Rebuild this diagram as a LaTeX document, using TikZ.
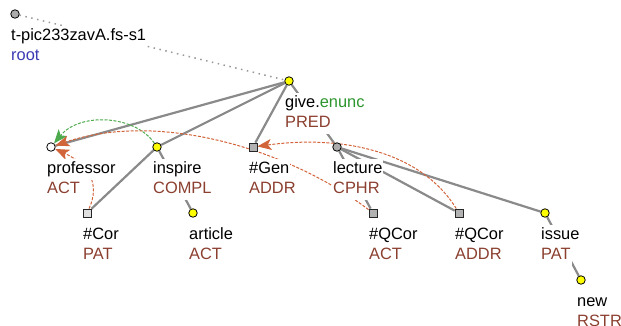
\documentclass[tikz,border=0pt]{standalone}
\usepackage{fontspec}
\setmainfont{Liberation Sans}
\usepackage{xcolor}
\usetikzlibrary{arrows.meta, positioning, backgrounds}

\definecolor{branchgray}{HTML}{8A8A8A}
\definecolor{functor}{HTML}{8B3F2F}
\definecolor{corefred}{HTML}{D2643A}
\definecolor{corefgreen}{HTML}{4DAA4D}
\definecolor{rootblue}{HTML}{3B3BB3}
\definecolor{lemmagreen}{HTML}{2E962E}
\definecolor{lexyellow}{HTML}{FFFF00}

\begin{document}
\begin{tikzpicture}[
  x=1pt, y=-1pt,
  font=\fontsize{16.4}{20}\selectfont,
  tnode/.style={
    circle,
    draw=black,
    line width=0.8pt,
    inner sep=0pt,
    minimum size=8.5pt
  },
  lex/.style={tnode, fill=lexyellow},
  wnode/.style={tnode, fill=white},
  gnode/.style={tnode, fill=gray!65},
  sq/.style={
    rectangle,
    draw=black!85,
    line width=0.8pt,
    inner sep=0pt,
    minimum size=8pt,
    fill=gray!60
  },
  word/.style={
    fill=white,
    inner xsep=1pt,
    inner ysep=2pt,
    text height=12pt,
    text depth=5pt
  },
  func/.style={word, text=functor},
  branch/.style={line width=2.2pt, draw=branchgray},
  rootlink/.style={line width=1.5pt, draw=gray!80, dash pattern=on 1.5pt off 4.5pt},
  coref/.style={-{Stealth[length=14pt, width=11pt, inset=3.5pt]}, line width=1pt,
    dash pattern=on 3pt off 1.5pt}
]
\useasboundingbox (0,0) rectangle (621,325);

% ================= tree nodes =================
\node[gnode] (root) at (15,14) {};
\node[lex] (give) at (289,81) {};

\node[wnode] (prof) at (51,147) {};
\node[lex] (insp) at (157,147) {};
\node[sq] (gen) at (253,147) {};
\node[gnode] (lect) at (337,147) {};

\node[sq, fill=gray!25] (cor) at (87,213) {};
\node[lex] (art) at (193,213) {};
\node[sq] (qact) at (373,213) {};
\node[sq] (qaddr) at (459,213) {};
\node[lex] (issue) at (545,213) {};

\node[lex] (new) at (581,280) {};

% ================= labels =================
\node[word, below right=12pt and -5pt of root.center] (root_w) {t-pic233zavA.fs-s1};
\node[word, text=rootblue, below right=32pt and -5pt of root.center] (root_f) {root};

\node[word, below right=12pt and -5pt of give.center] (give_w)
  {give.\textcolor{lemmagreen}{enunc}};
\node[func, below right=32pt and -5pt of give.center] (give_f) {PRED};

\node[word, below right=12pt and -5pt of prof.center] (prof_w) {professor};
\node[func, below right=32pt and -5pt of prof.center] (prof_f) {ACT};

\node[word, below right=12pt and -5pt of insp.center] (insp_w) {inspire};
\node[func, below right=32pt and -5pt of insp.center] (insp_f) {COMPL};

\node[word, below right=12pt and -5pt of gen.center] (gen_w) {\#Gen};
\node[func, below right=32pt and -5pt of gen.center] (gen_f) {ADDR};

\node[word, below right=12pt and -5pt of lect.center] (lect_w) {lecture};
\node[func, below right=32pt and -5pt of lect.center] (lect_f) {CPHR};

\node[word, below right=12pt and -5pt of cor.center] (cor_w) {\#Cor};
\node[func, below right=32pt and -5pt of cor.center] (cor_f) {PAT};

\node[word, below right=12pt and -5pt of art.center] (art_w) {article};
\node[func, below right=32pt and -5pt of art.center] (art_f) {ACT};

\node[word, below right=12pt and -5pt of qact.center] (qact_w) {\#QCor};
\node[func, below right=32pt and -5pt of qact.center] (qact_f) {ACT};

\node[word, below right=12pt and -5pt of qaddr.center] (qaddr_w) {\#QCor};
\node[func, below right=32pt and -5pt of qaddr.center] (qaddr_f) {ADDR};

\node[word, below right=12pt and -5pt of issue.center] (issue_w) {issue};
\node[func, below right=32pt and -5pt of issue.center] (issue_f) {PAT};

\node[word, below right=12pt and -5pt of new.center] (new_w) {new};
\node[func, below right=32pt and -5pt of new.center] (new_f) {RSTR};

% ================= edges and coreference =================
\begin{scope}[on background layer]
  \draw[rootlink] (root) -- (give);

  \draw[branch] (give) -- (prof);
  \draw[branch] (give) -- (insp);
  \draw[branch] (give) -- (gen);
  \draw[branch] (give) -- (lect);
  \draw[branch] (insp) -- (cor);
  \draw[branch] (insp) -- (art);
  \draw[branch] (lect) -- (qact);
  \draw[branch] (lect) -- (qaddr);
  \draw[branch] (lect) -- (issue);
  \draw[branch] (issue) -- (new);

  \draw[coref, corefgreen] (insp) .. controls (135,115) and (80,112) .. (prof);
  \draw[coref, corefred] (qact) .. controls (290,150) and (160,110) .. (prof);
  \draw[coref, corefred] (cor) .. controls (100,185) and (90,165) .. (prof);
  \draw[coref, corefred] (qaddr) .. controls (420,150) and (340,135) .. (gen);
\end{scope}

\end{tikzpicture}
\end{document}
